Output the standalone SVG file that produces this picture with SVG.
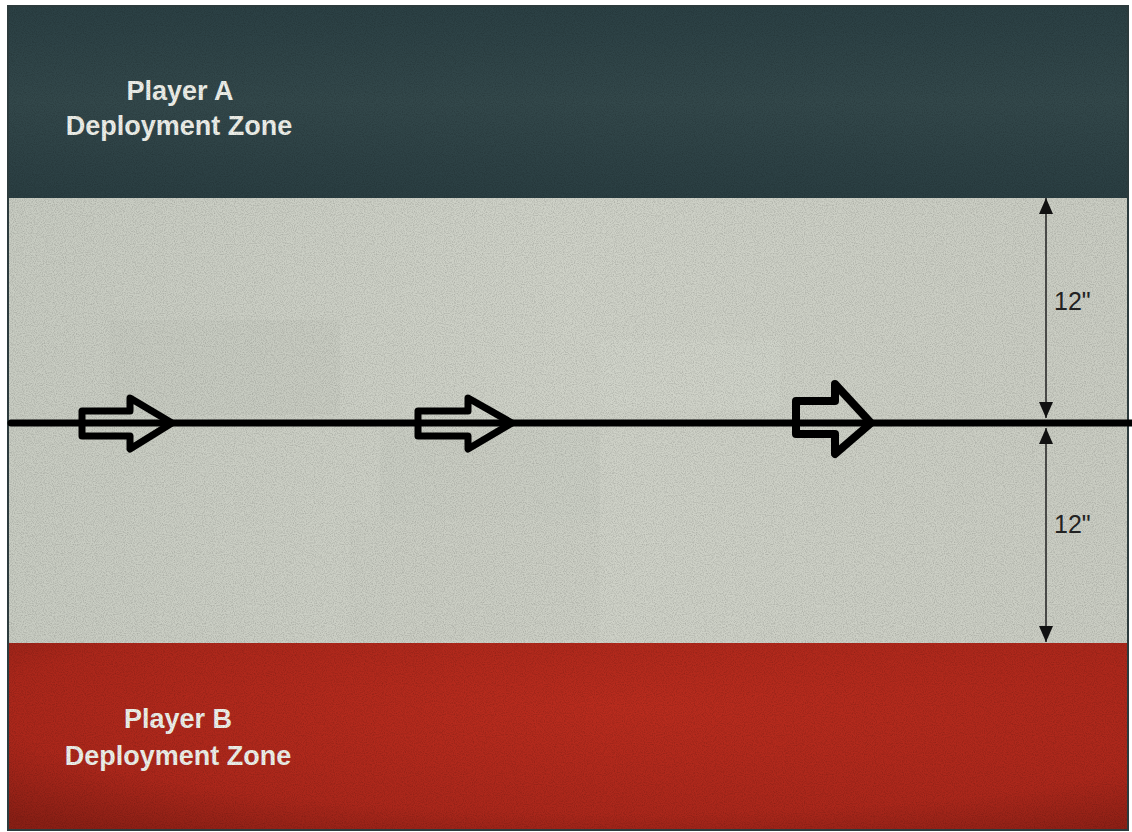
<svg xmlns="http://www.w3.org/2000/svg" width="1132" height="832" viewBox="0 0 1132 832">
  <style>
    .zone-label { font-family: "Liberation Sans", Arial, sans-serif; font-weight: bold; font-size: 27px; fill: #eef0ea; text-anchor: middle; }
    .dim-label { font-family: "Liberation Sans", Arial, sans-serif; font-size: 25px; fill: #222; }
    .move-arrow { fill: none; stroke: #000; stroke-linejoin: round; }
    .dim-line { stroke: #2a2a2a; stroke-width: 1.6; fill: none; marker-start: url(#dimHead); marker-end: url(#dimHead); }
  </style>
  <defs>
    <marker id="dimHead" markerUnits="userSpaceOnUse" viewBox="0 0 16 14" markerWidth="16" markerHeight="14" refX="16" refY="7" orient="auto-start-reverse">
      <path d="M0,0 L16,7 L0,14 Z" fill="#111"/>
    </marker>
    <linearGradient id="topGrad" x1="0" y1="0" x2="0" y2="1">
      <stop offset="0" stop-color="#2b4044"/>
      <stop offset="0.5" stop-color="#33484b"/>
      <stop offset="1" stop-color="#2a3e42"/>
    </linearGradient>
    <radialGradient id="redGrad" cx="0.55" cy="0.35" r="0.8">
      <stop offset="0" stop-color="#b92c1e"/>
      <stop offset="0.7" stop-color="#ab271b"/>
      <stop offset="1" stop-color="#8a1f15"/>
    </radialGradient>
    <linearGradient id="midGrad" x1="0" y1="0" x2="1" y2="0">
      <stop offset="0" stop-color="#c8ccc2"/>
      <stop offset="0.5" stop-color="#cfd2c8"/>
      <stop offset="1" stop-color="#cacdc3"/>
    </linearGradient>
    <filter id="grain" x="0" y="0" width="100%" height="100%">
      <feTurbulence type="fractalNoise" baseFrequency="0.9" numOctaves="2" seed="3" result="n"/>
      <feColorMatrix type="matrix" values="0 0 0 0 0  0 0 0 0 0  0 0 0 0 0  0 0 0 -0.9 0.55" in="n"/>
    </filter>
  </defs>

  <rect x="0" y="0" width="1132" height="832" fill="#ffffff"/>

  <g id="zone-a">
    <rect x="8" y="6" width="1120" height="192" fill="url(#topGrad)"/>
    <text class="zone-label" x="180" y="100">Player A</text>
    <text class="zone-label" x="179" y="135">Deployment Zone</text>
  </g>

  <g id="no-mans-land">
    <rect x="8" y="198" width="1120" height="445" fill="url(#midGrad)"/>
    <rect x="110" y="320" width="230" height="95" fill="#c4c8be" opacity="0.5"/>
    <rect x="380" y="430" width="220" height="90" fill="#c5c9bf" opacity="0.5"/>
    <rect x="600" y="340" width="180" height="70" fill="#d2d5cc" opacity="0.5"/>
    <rect x="350" y="520" width="250" height="120" fill="#c7cbc1" opacity="0.4"/>
  </g>

  <g id="zone-b">
    <rect x="8" y="643" width="1120" height="187" fill="url(#redGrad)"/>
    <text class="zone-label" x="178" y="728">Player B</text>
    <text class="zone-label" x="178" y="765">Deployment Zone</text>
  </g>

  <rect x="8" y="6" width="1120" height="824" filter="url(#grain)" opacity="0.35"/>
  <rect x="8" y="6" width="1120" height="824" fill="none" stroke="#2c3b3d" stroke-width="2"/>

  <g id="connectors">
    <line x1="11" y1="423" x2="1132" y2="423" stroke="#000" stroke-width="7" stroke-linecap="round"/>
    <line class="dim-line" x1="1046" y1="198" x2="1046" y2="418"/>
    <line class="dim-line" x1="1046" y1="428" x2="1046" y2="642"/>
  </g>

  <g id="arrow-1">
    <path class="move-arrow" stroke-width="7" d="M82,411 H130 V398 L172,423 L130,449 V436 H82 Z"/>
  </g>
  <g id="arrow-2">
    <path class="move-arrow" stroke-width="7" d="M418,411 H468 V398 L512,423 L468,449 V436 H418 Z"/>
  </g>
  <g id="arrow-3">
    <path class="move-arrow" stroke-width="8" d="M796,401 H835 V384 L871,423 L835,454 V434 H796 Z"/>
  </g>

  <g id="dim-labels">
    <text class="dim-label" x="1054" y="310">12"</text>
    <text class="dim-label" x="1054" y="533">12"</text>
  </g>
</svg>
